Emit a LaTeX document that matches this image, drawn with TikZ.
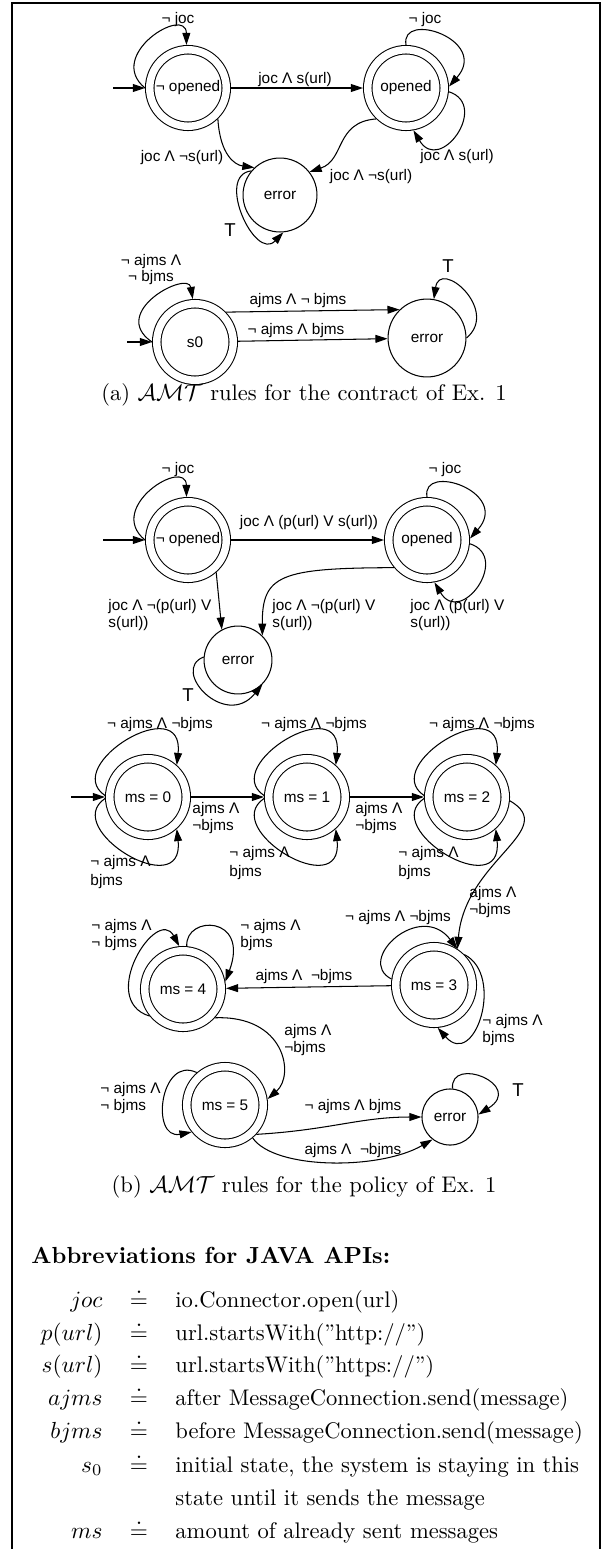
\documentclass[tikz,border=0pt]{standalone}
\usepackage{fontspec}
\newfontfamily\lblfont{Liberation Sans}
\usetikzlibrary{arrows.meta}
\newcommand\lblsz{\lblfont\fontsize{6.6}{6.9}\selectfont}
\newcommand\txtsz{\fontsize{9.7}{11.6}\selectfont}
\begin{document}
\begin{tikzpicture}[x=0.43pt,y=-0.43pt,
  dstate/.style={circle, draw, line width=0.45pt, double, double distance=3.2pt, minimum size=32.9pt, inner sep=0pt, outer sep=2.05pt, font=\lblsz},
  sstate/.style={circle, draw, line width=0.45pt, inner sep=0pt, font=\lblsz},
  arr/.style={-{Triangle[length=5.2pt,width=3.4pt]}, line width=0.45pt},
  lbl/.style={font=\lblsz, inner sep=0pt, align=left},
  tlbl/.style={font=\lblfont\fontsize{8}{9}\selectfont, inner sep=0pt},
  txt/.style={inner sep=0pt, font=\txtsz}]
\useasboundingbox (0,0) rectangle (610,1549);
\draw[line width=0.5pt] (12,1549) -- (12,3) -- (600,3) -- (600,1549);

% ---------- (a) top ----------
\node[dstate] (nA1) at (188,88) {¬ opened};
\node[dstate] (nA2) at (406,88) {opened};
\node[sstate, minimum size=31.8pt] (nA3) at (280,195) {error};
\coordinate (sA1) at (113,88);
\draw[arr] (sA1) -- (nA1);
\draw[arr] (nA1.180) .. controls (105,55) and (186,5) .. (nA1.92);
\node[lbl] (lA1) at (178,20) {¬ joc};
\draw[arr] (nA1) -- (nA2);
\node[lbl] (lA2) at (295,80) {joc Λ s(url)};
\draw[arr] (nA2.90) .. controls (400,10) and (490,40) .. (nA2.2);
\node[lbl] (lA3) at (425,20) {¬ joc};
\draw[arr] (nA2.-5) .. controls (490,105) and (440,175) .. (nA2.-80);
\node[lbl] (lA4) at (457,157) {joc Λ s(url)};
\draw[arr] (nA1.-46) .. controls (220,155) and (235,165) .. (nA3.133);
\node[lbl] (lA5) at (182,158) {joc Λ ¬s(url)};
\draw[arr] (nA2.226) .. controls (335,122) and (345,160) .. (nA3.38);
\node[lbl] (lA6) at (371,177) {joc Λ ¬s(url)};
\draw[arr] (nA3.140) .. controls (215,175) and (255,262) .. (nA3.275);
\node[tlbl] (lA7) at (230,230) {T};

% ---------- (a) s0 ----------
\node[dstate] (nB1) at (195,342) {s0};
\node[sstate, minimum size=33.5pt] (nB2) at (427,338) {error};
\coordinate (sB1) at (127,342);
\draw[arr] (sB1) -- (nB1);
\draw[arr] (nB1.180) .. controls (108,312) and (188,270) .. (nB1.93);
\node[lbl, align=center] (lB1) at (151,270) {¬ ajms Λ\\¬ bjms};
\draw[arr] (nB1.44) -- (nB2.134);
\node[lbl] (lB2) at (298,301) {ajms Λ ¬ bjms};
\draw[arr] (nB1) -- (nB2);
\node[lbl] (lB3) at (296,331) {¬ ajms Λ bjms};
\draw[arr] (nB2.0) .. controls (500,310) and (440,258) .. (nB2.80);
\node[tlbl] (lB4) at (448,266) {T};

\node[txt, anchor=mid] (capA) at (304,395) {(a) $\mathcal{AMT}$ rules for the contract of Ex. 1};

% ---------- (b) top ----------
\node[dstate] (nC1) at (188,540) {¬ opened};
\node[dstate] (nC2) at (427,540) {opened};
\node[sstate, minimum size=29.2pt] (nC3) at (238,660) {error};
\coordinate (sC1) at (103,540);
\draw[arr] (sC1) -- (nC1);
\draw[arr] (nC1.180) .. controls (105,507) and (186,457) .. (nC1.92);
\node[lbl] (lC1) at (178,470) {¬ joc};
\draw[arr] (nC1) -- (nC2);
\node[lbl] (lC2) at (309,523) {joc Λ (p(url) V s(url))};
\draw[arr] (nC2.90) .. controls (421,462) and (511,492) .. (nC2.2);
\node[lbl] (lC3) at (445,470) {¬ joc};
\draw[arr] (nC2.-5) .. controls (511,557) and (461,627) .. (nC2.-80);
\node[lbl, anchor=west] (lC4) at (410,615) {joc Λ (p(url) V\\s(url))};
\draw[arr] (nC1.-49) -- (nC3.118);
\node[lbl, anchor=west] (lC5) at (108,615) {joc Λ ¬(p(url) V\\s(url))};
\draw[arr] (nC2.220) .. controls (280,568) and (262,575) .. (nC3.45);
\node[lbl, anchor=west] (lC6) at (272,615) {joc Λ ¬(p(url) V\\s(url))};
\draw[arr] (nC3.175) .. controls (170,670) and (225,730) .. (nC3.-45);
\node[tlbl] (lC7) at (188,695) {T};

% ---------- (b) ms ----------
\node[dstate] (D0) at (148,797) {ms = 0};
\node[dstate] (D1) at (307,797) {ms = 1};
\node[dstate] (D2) at (467,797) {ms = 2};
\node[dstate] (D3) at (434,985) {ms = 3};
\node[dstate] (D4) at (183,989) {ms = 4};
\node[dstate] (D5) at (225,1105) {ms = 5};
\node[sstate, minimum size=24.1pt] (E) at (450,1117) {error};
\coordinate (sD0) at (71,797);
\draw[arr] (sD0) -- (D0);
\draw[arr] (D0) -- (D1);
\draw[arr] (D1) -- (D2);

\draw[arr] (D0.178) .. controls (60,765) and (185,690) .. (D0.48);
\draw[arr] (D0.182) .. controls (60,829) and (185,904) .. (D0.-48);
\draw[arr] (D1.178) .. controls (219,765) and (344,690) .. (D1.48);
\draw[arr] (D1.182) .. controls (219,829) and (344,904) .. (D1.-48);
\draw[arr] (D2.178) .. controls (379,765) and (504,690) .. (D2.48);
\draw[arr] (D2.182) .. controls (379,829) and (504,904) .. (D2.-48);
\node[lbl] (lD0t) at (160,725) {¬ ajms Λ ¬bjms};
\node[lbl] (lD1t) at (314,725) {¬ ajms Λ ¬bjms};
\node[lbl] (lD2t) at (482,725) {¬ ajms Λ ¬bjms};
\node[lbl, anchor=west] (lD0b) at (90,872) {¬ ajms Λ\\[1.3pt]bjms};
\node[lbl, anchor=west] (lD1b) at (229,863) {¬ ajms Λ\\[1.3pt]bjms};
\node[lbl, anchor=west] (lD2b) at (398,863) {¬ ajms Λ\\[1.3pt]bjms};
\node[lbl, anchor=west] (lD01) at (192,818) {ajms Λ\\¬bjms};
\node[lbl, anchor=west] (lD12) at (355,818) {ajms Λ\\¬bjms};

\draw[arr] (D2.-5) .. controls (560,830) and (465,860) .. (D3.57);
\node[lbl, anchor=west] (lD23) at (469,902) {ajms Λ\\[0.8pt]¬bjms};
\draw[arr] (D3.172) .. controls (355,960) and (420,900) .. (D3.57);
\node[lbl] (lD3t) at (398,918) {¬ ajms Λ ¬bjms};
\draw[arr] (D3.45) .. controls (505,975) and (475,1070) .. (D3.-85);
\node[lbl, anchor=west] (lD3b) at (482,1030) {¬ ajms Λ\\[0.4pt]bjms};
\draw[arr] (D3) -- (D4);
\node[lbl] (lD34) at (304,977) {ajms Λ\ \ ¬bjms};
\draw[arr] (D4.219) .. controls (97,1000) and (157,905) .. (D4.95);
\node[lbl, anchor=west] (lD4l) at (91,935) {¬ ajms Λ\\¬ bjms};
\draw[arr] (D4.85) .. controls (185,915) and (250,915) .. (D4.10);
\node[lbl, anchor=west] (lD4r) at (240,935) {¬ ajms Λ\\bjms};
\draw[arr] (D4.-42) .. controls (285,1015) and (295,1075) .. (D5.8);
\node[lbl, anchor=west] (lD45) at (284,1040) {ajms Λ\\¬bjms};
\draw[arr] (D5.131) .. controls (160,1055) and (150,1140) .. (D5.219);
\node[lbl, anchor=west] (lD5) at (100,1098) {¬ ajms Λ\\¬ bjms};
\draw[arr] (D5.-43) .. controls (330,1130) and (360,1117) .. (E.180);
\node[lbl] (lD5E1) at (353,1107) {¬ ajms Λ bjms};
\draw[arr] (D5.-50) .. controls (275,1170) and (380,1170) .. (E.232);
\node[lbl] (lD5E2) at (353,1151) {ajms Λ\ \ ¬bjms};
\draw[arr] (E.85) .. controls (450,1055) and (525,1085) .. (E.5);
\node[tlbl] (lE) at (518,1090) {T};

\node[txt, anchor=mid] (capB) at (304,1187) {(b) $\mathcal{AMT}$ rules for the policy of Ex. 1};

% ---------- abbreviations ----------
\node[inner sep=0pt, anchor=mid west, font=\bfseries] (ttl) at (31,1258) {Abbreviations for JAVA APIs:};
\node[txt, anchor=mid east] (k1) at (103,1302) {$joc$};
\node[txt, anchor=mid] (q1) at (139,1302) {$\doteq$};
\node[txt, anchor=mid west] (v1) at (175,1302) {io.Connector.open(url)};
\node[txt, anchor=mid east] (k2) at (103,1335) {$p(url)$};
\node[txt, anchor=mid] (q2) at (139,1335) {$\doteq$};
\node[txt, anchor=mid west] (v2) at (175,1335) {url.startsWith(”http://”)};
\node[txt, anchor=mid east] (k3) at (103,1367) {$s(url)$};
\node[txt, anchor=mid] (q3) at (139,1367) {$\doteq$};
\node[txt, anchor=mid west] (v3) at (175,1367) {url.startsWith(”https://”)};
\node[txt, anchor=mid east] (k4) at (103,1400) {$ajms$};
\node[txt, anchor=mid] (q4) at (139,1400) {$\doteq$};
\node[txt, anchor=mid west] (v4) at (175,1400) {after MessageConnection.send(message)};
\node[txt, anchor=mid east] (k5) at (103,1433) {$bjms$};
\node[txt, anchor=mid] (q5) at (139,1433) {$\doteq$};
\node[txt, anchor=mid west] (v5) at (175,1433) {before MessageConnection.send(message)};
\node[txt, anchor=mid east] (k6) at (103,1467) {$s_0$};
\node[txt, anchor=mid] (q6) at (139,1467) {$\doteq$};
\node[txt, anchor=mid west] (v6) at (175,1467) {initial state, the system is staying in this};
\node[txt, anchor=mid west] (v6b) at (175,1500) {state until it sends the message};
\node[txt, anchor=mid east] (k7) at (103,1533) {$ms$};
\node[txt, anchor=mid] (q7) at (139,1533) {$\doteq$};
\node[txt, anchor=mid west] (v7) at (175,1533) {amount of already sent messages};
\end{tikzpicture}
\end{document}
